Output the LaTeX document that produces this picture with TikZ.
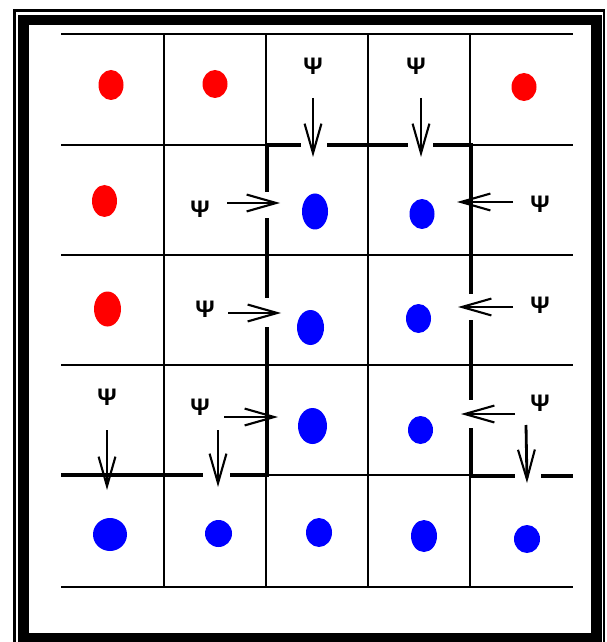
\documentclass[tikz,border=0pt]{standalone}
\usepackage{fontspec}
\setsansfont{Liberation Sans}
\usetikzlibrary{arrows.meta}

\definecolor{dotred}{RGB}{255,0,0}
\definecolor{dotblue}{RGB}{0,0,255}

\tikzset{
  gridline/.style={line width=0.9pt},
  wall/.style={line width=2.8pt},
  flux/.style={line width=2pt,-{Straight Barb[length=21pt,width=12pt,line width=1.5pt]}},
  psi/.style={font=\sffamily\bfseries\fontsize{17}{19}\selectfont, inner sep=0pt},
  hole/.style={fill=white},
}

\begin{document}
\begin{tikzpicture}[x=0.025cm, y=-0.025cm]
\useasboundingbox (0,0) rectangle (606,642);

% frame
\draw[line width=2.1pt] (14.5,10.5) rectangle (604,660);
\draw[line width=7.8pt] (23.5,20) rectangle (596.5,638);

% grid
\draw[gridline] (61,34) -- (573,34);
\draw[gridline] (61,145) -- (573,145);
\draw[gridline] (61,255) -- (573,255);
\draw[gridline] (61,365) -- (573,365);
\draw[gridline] (61,475) -- (573,475);
\draw[gridline] (61,587) -- (573,587);
\draw[gridline] (164,34) -- (164,587);
\draw[gridline] (266,34) -- (266,587);
\draw[gridline] (368,34) -- (368,587);
\draw[gridline] (470,34) -- (470,587);

% boundary
\draw[wall] (61,475) -- (267,475) -- (267,145) -- (471,145) -- (471,476) -- (573,476);

% breaks in the boundary
\fill[hole] (301,140) rectangle (327,150);
\fill[hole] (408,140) rectangle (433,150);
\fill[hole] (262,192) rectangle (272,218);
\fill[hole] (262,298) rectangle (272,327);
\fill[hole] (466,294) rectangle (476,320);
\fill[hole] (466,400) rectangle (476,428);
\fill[hole] (203,470) rectangle (230,480);
\fill[hole] (515,471) rectangle (541,481);

% red dots
\fill[dotred] (111,85) ellipse (12.5 and 15);
\fill[dotred] (215,84) ellipse (12.5 and 14);
\fill[dotred] (524,87) ellipse (12.5 and 14);
\fill[dotred] (104.5,201) ellipse (12.5 and 16);
\fill[dotred] (107.5,309) ellipse (13.5 and 17.5);

% blue dots
\fill[dotblue] (315,211.5) ellipse (13 and 18);
\fill[dotblue] (422,214) ellipse (12.5 and 15);
\fill[dotblue] (310.5,327.5) ellipse (13.5 and 17.5);
\fill[dotblue] (418.5,318.5) ellipse (12.5 and 14.5);
\fill[dotblue] (312.5,426) ellipse (14.5 and 18);
\fill[dotblue] (420.5,430) ellipse (12.5 and 14);
\fill[dotblue] (110,534.5) ellipse (17 and 16.5);
\fill[dotblue] (218.5,533.5) ellipse (13.5 and 13.5);
\fill[dotblue] (319,532.5) ellipse (13 and 14.5);
\fill[dotblue] (424,536) ellipse (13 and 16);
\fill[dotblue] (527,539) ellipse (13 and 14);

% psi labels
\node[psi] (top1) at (313,66) {Ψ};
\node[psi] (top2) at (416,66) {Ψ};
\node[psi] (left2) at (200,209) {Ψ};
\node[psi] (left3) at (205,309) {Ψ};
\node[psi] (left4) at (200,407) {Ψ};
\node[psi] (low1) at (107,397) {Ψ};
\node[psi] (right2) at (540,204) {Ψ};
\node[psi] (right3) at (540,305) {Ψ};
\node[psi] (right4) at (540,403) {Ψ};

% flux arrows
\coordinate (t1s) at (313,98);  \coordinate (t1e) at (313,157);
\coordinate (t2s) at (421,98);  \coordinate (t2e) at (421,157);
\coordinate (l2s) at (227,203); \coordinate (l2e) at (280,203);
\coordinate (l3s) at (228,313); \coordinate (l3e) at (281,313);
\coordinate (l4s) at (224,417); \coordinate (l4e) at (278,417);
\coordinate (b1s) at (107,430); \coordinate (b1e) at (107,490);
\coordinate (b2s) at (218,430); \coordinate (b2e) at (218,487);
\coordinate (b3s) at (526,425); \coordinate (b3e) at (527,483);
\coordinate (r2s) at (513,202); \coordinate (r2e) at (457,202);
\coordinate (r3s) at (513,307); \coordinate (r3e) at (458,307);
\coordinate (r4s) at (515,414); \coordinate (r4e) at (461,414);

\draw[flux] (t1s) -- (t1e);
\draw[flux] (t2s) -- (t2e);
\draw[flux] (l2s) -- (l2e);
\draw[flux] (l3s) -- (l3e);
\draw[flux] (l4s) -- (l4e);
\draw[flux] (b1s) -- (b1e);
\draw[flux] (b2s) -- (b2e);
\draw[flux] (b3s) -- (b3e);
\draw[flux] (r2s) -- (r2e);
\draw[flux] (r3s) -- (r3e);
\draw[flux] (r4s) -- (r4e);
\end{tikzpicture}
\end{document}
